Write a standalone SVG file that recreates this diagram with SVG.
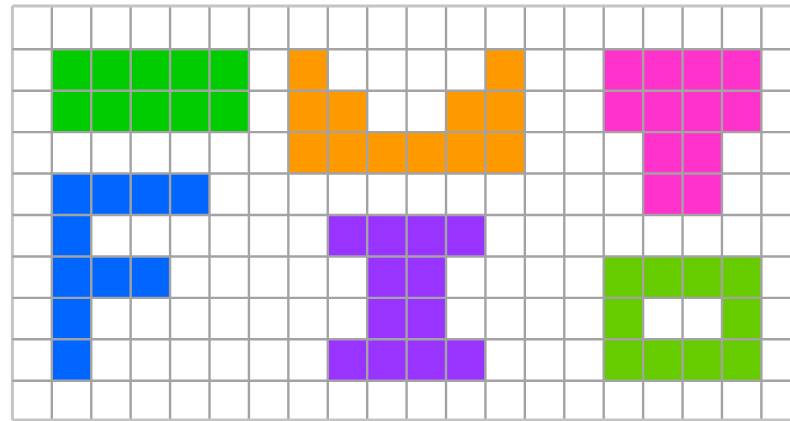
<svg xmlns="http://www.w3.org/2000/svg" width="790" height="421" viewBox="0 0 790 421">
<style>
.grid line{stroke:#a3a3a3;stroke-width:2.4}
.grid line.edge{stroke:#c4c4c4;stroke-width:3}
.green rect{fill:#00cc00}
.orange rect{fill:#ff9900}
.magenta rect{fill:#ff33cc}
.blue rect{fill:#0066ff}
.purple rect{fill:#9933ff}
.lime rect{fill:#66cc00}
</style>
<rect x="0" y="0" width="790" height="421" fill="#ffffff"/>
<g id="green-block" class="green">
<rect x="51.82" y="49.24" width="197.1" height="82.88"/>
</g>
<g id="orange-u" class="orange">
<rect x="288.34" y="49.24" width="39.42" height="82.88"/>
<rect x="485.44" y="49.24" width="39.42" height="82.88"/>
<rect x="327.76" y="90.68" width="39.42" height="41.44"/>
<rect x="446.02" y="90.68" width="39.42" height="41.44"/>
<rect x="288.34" y="132.12" width="236.52" height="41.44"/>
</g>
<g id="magenta-t" class="magenta">
<rect x="603.7" y="49.24" width="157.68" height="82.88"/>
<rect x="643.12" y="132.12" width="78.84" height="82.88"/>
</g>
<g id="blue-f" class="blue">
<rect x="51.82" y="173.56" width="157.68" height="41.44"/>
<rect x="51.82" y="215" width="39.42" height="165.76"/>
<rect x="91.24" y="256.44" width="78.84" height="41.44"/>
</g>
<g id="purple-i" class="purple">
<rect x="327.76" y="215" width="157.68" height="41.44"/>
<rect x="367.18" y="256.44" width="78.84" height="82.88"/>
<rect x="327.76" y="339.32" width="157.68" height="41.44"/>
</g>
<g id="lime-o" class="lime">
<rect x="603.7" y="256.44" width="157.68" height="41.44"/>
<rect x="603.7" y="297.88" width="39.42" height="41.44"/>
<rect x="721.96" y="297.88" width="39.42" height="41.44"/>
<rect x="603.7" y="339.32" width="157.68" height="41.44"/>
</g>
<g id="grid-lines" class="grid">
<line class="edge" x1="12.4" y1="6" x2="12.4" y2="420"/>
<line x1="51.82" y1="6" x2="51.82" y2="420"/>
<line x1="91.24" y1="6" x2="91.24" y2="420"/>
<line x1="130.66" y1="6" x2="130.66" y2="420"/>
<line x1="170.08" y1="6" x2="170.08" y2="420"/>
<line x1="209.5" y1="6" x2="209.5" y2="420"/>
<line x1="248.92" y1="6" x2="248.92" y2="420"/>
<line x1="288.34" y1="6" x2="288.34" y2="420"/>
<line x1="327.76" y1="6" x2="327.76" y2="420"/>
<line x1="367.18" y1="6" x2="367.18" y2="420"/>
<line x1="406.6" y1="6" x2="406.6" y2="420"/>
<line x1="446.02" y1="6" x2="446.02" y2="420"/>
<line x1="485.44" y1="6" x2="485.44" y2="420"/>
<line x1="524.86" y1="6" x2="524.86" y2="420"/>
<line x1="564.28" y1="6" x2="564.28" y2="420"/>
<line x1="603.7" y1="6" x2="603.7" y2="420"/>
<line x1="643.12" y1="6" x2="643.12" y2="420"/>
<line x1="682.54" y1="6" x2="682.54" y2="420"/>
<line x1="721.96" y1="6" x2="721.96" y2="420"/>
<line x1="761.38" y1="6" x2="761.38" y2="420"/>
<line class="edge" x1="12.4" y1="6" x2="790" y2="6"/>
<line x1="12.4" y1="49.24" x2="790" y2="49.24"/>
<line x1="12.4" y1="90.68" x2="790" y2="90.68"/>
<line x1="12.4" y1="132.12" x2="790" y2="132.12"/>
<line x1="12.4" y1="173.56" x2="790" y2="173.56"/>
<line x1="12.4" y1="215" x2="790" y2="215"/>
<line x1="12.4" y1="256.44" x2="790" y2="256.44"/>
<line x1="12.4" y1="297.88" x2="790" y2="297.88"/>
<line x1="12.4" y1="339.32" x2="790" y2="339.32"/>
<line x1="12.4" y1="380.76" x2="790" y2="380.76"/>
<line class="edge" x1="12.4" y1="420" x2="790" y2="420"/>
</g>
</svg>
